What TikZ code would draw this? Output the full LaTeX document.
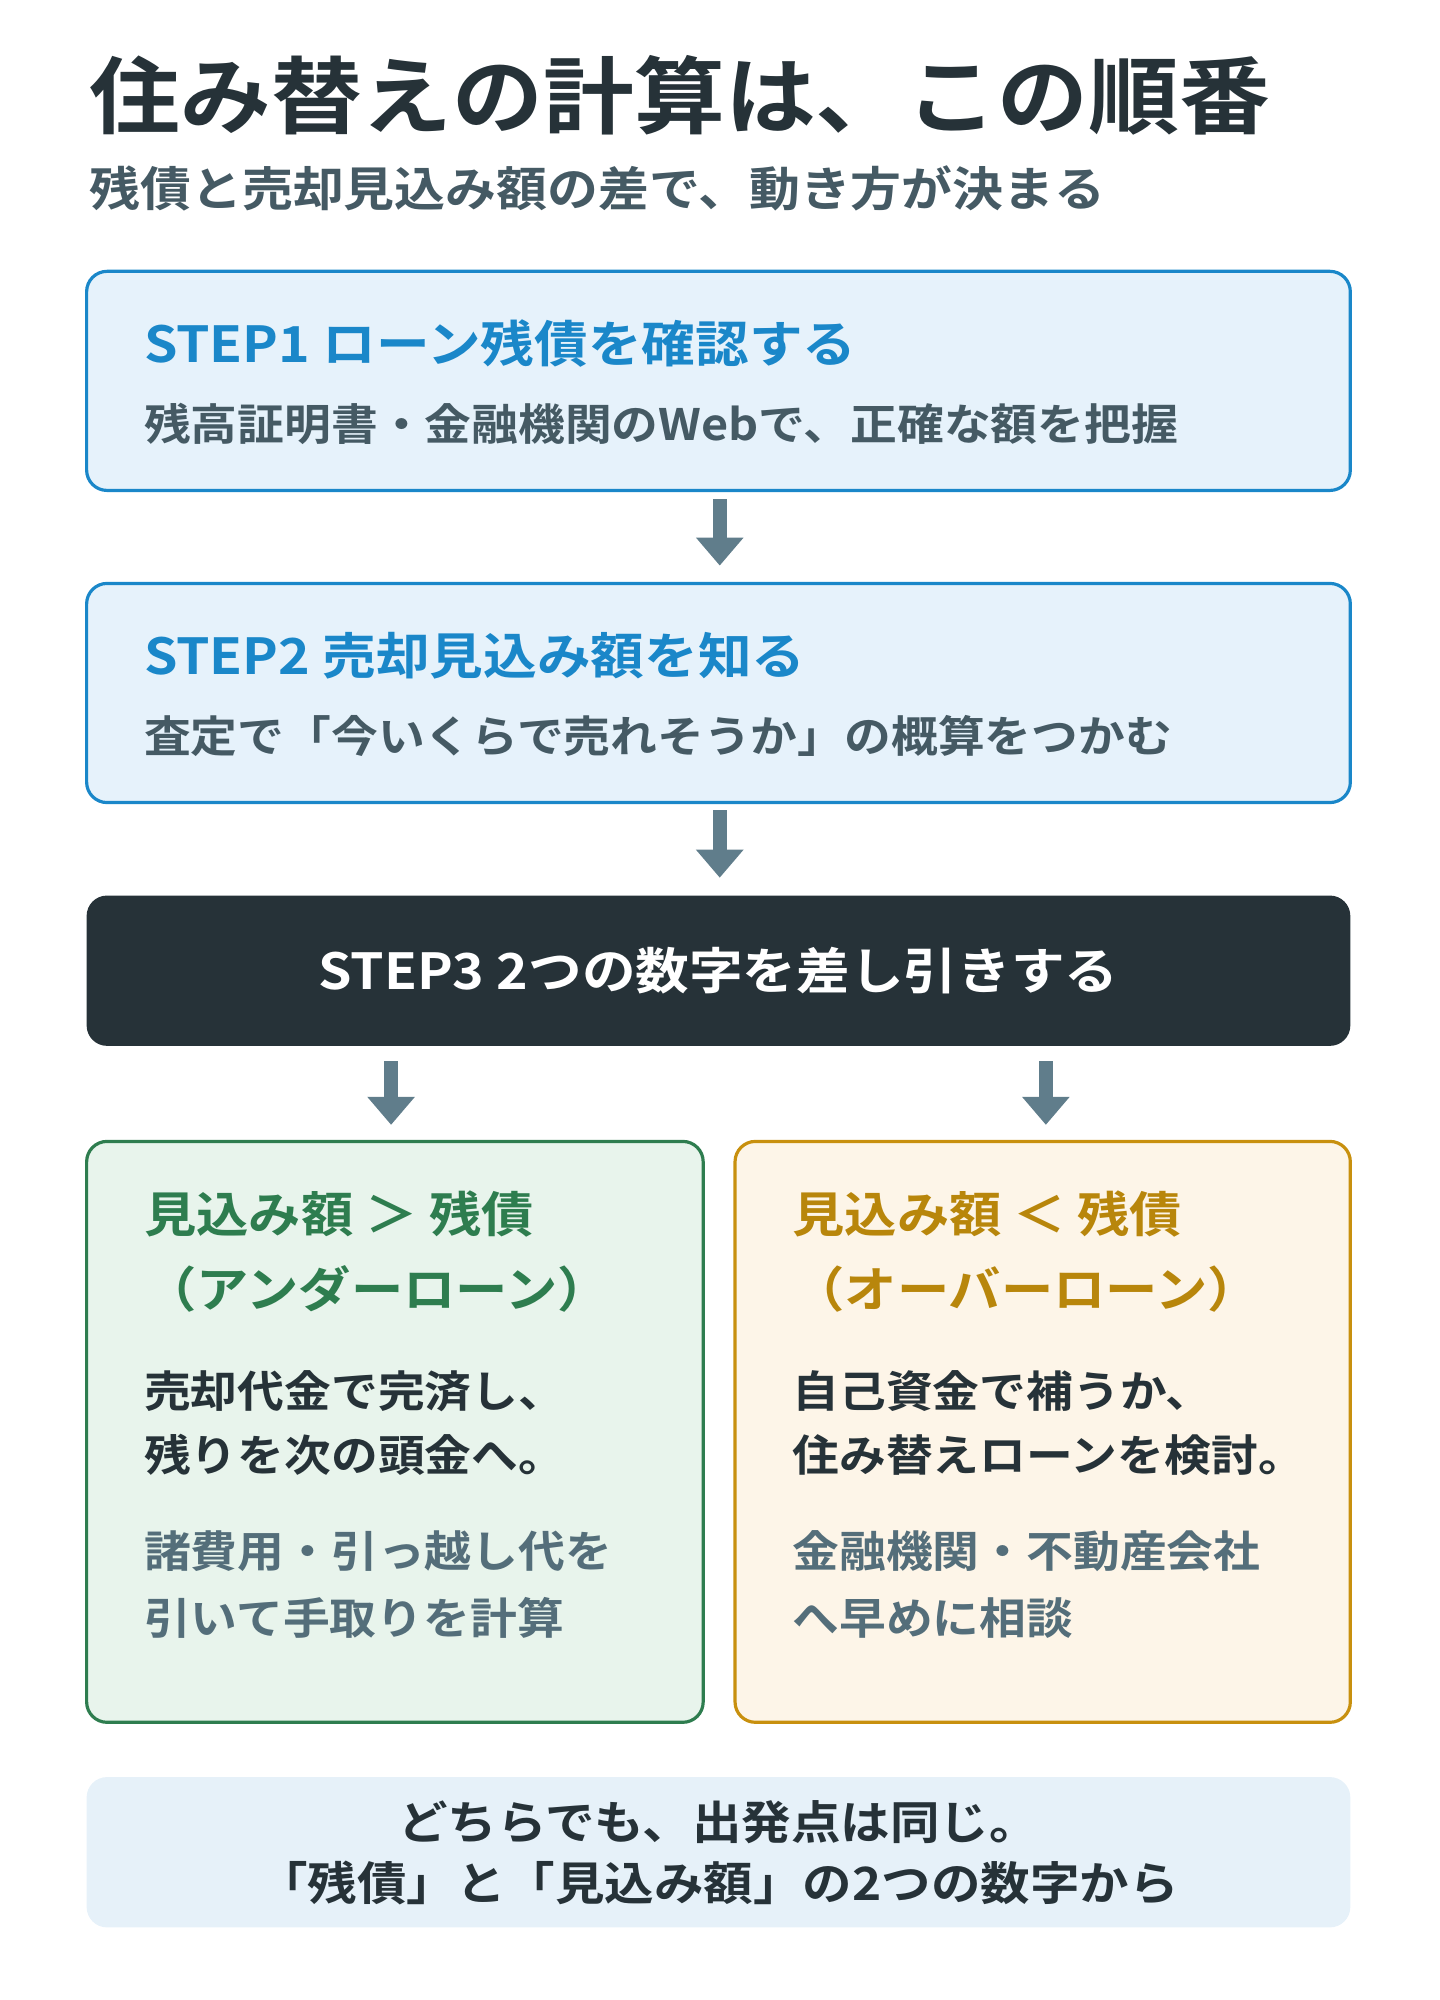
\documentclass[tikz,border=0pt]{standalone}
\usepackage{fontspec}
\setmainfont{Noto Sans CJK JP}[BoldFont={Noto Sans CJK JP Bold},BoldFeatures={FakeStretch=1.08}]
\usetikzlibrary{arrows.meta}
\definecolor{ink}{HTML}{263238}
\definecolor{sub}{HTML}{455A64}
\definecolor{gr}{HTML}{546E7A}
\definecolor{blu}{HTML}{1A87C9}
\definecolor{blufill}{HTML}{E6F2FB}
\definecolor{arr}{HTML}{607D8B}
\definecolor{grn}{HTML}{2E7D4F}
\definecolor{grnfill}{HTML}{E8F4EC}
\definecolor{org}{HTML}{C8900E}
\definecolor{orgtxt}{HTML}{B8860B}
\definecolor{orgfill}{HTML}{FDF5E8}
\definecolor{botfill}{HTML}{E6F1F9}
\begin{document}
\begin{tikzpicture}[x=1pt,y=-1pt,font=\bfseries,
 box/.style={rounded corners=16pt,line width=2.5pt},
 t/.style={anchor=west,inner sep=0pt},
 ar/.style={arr,line width=11pt,-{Triangle[length=22pt,width=36pt]}},
]
\useasboundingbox (0,0) rectangle (1130,1570);
\node[t,ink,font=\fontsize{66}{72}\selectfont\bfseries] (title) at (70,75) {住み替えの計算は、この順番};
\node[t,sub,font=\fontsize{37}{42}\selectfont\bfseries] (subt) at (70,148) {残債と売却見込み額の差で、動き方が決まる};
% boxes
\draw[box,draw=blu,fill=blufill] (68,213) rectangle (1060,385);
\coordinate (b1s) at (565,392);
\node[t,blu,font=\fontsize{39}{44}\selectfont\bfseries] (s1) at (113,270) {STEP1 ローン残債を確認する};
\node[t,sub,font=\fontsize{34}{38}\selectfont\bfseries] (s1b) at (113,333) {残高証明書・金融機関のWebで、正確な額を把握};
\coordinate (b2n) at (565,444);
\draw[box,draw=blu,fill=blufill] (68,458) rectangle (1060,630);
\node[t,blu,font=\fontsize{39}{44}\selectfont\bfseries] (s2) at (113,515) {STEP2 売却見込み額を知る};
\node[t,sub,font=\fontsize{34}{38}\selectfont\bfseries] (s2b) at (113,578) {査定で「今いくらで売れそうか」の概算をつかむ};
\coordinate (b2s) at (565,636);
\coordinate (b3n) at (565,689);
\fill[ink,rounded corners=16pt] (68,703) rectangle (1060,821);
\node[white,font=\fontsize{39}{44}\selectfont\bfseries] (s3) at (564,762) {STEP3 2つの数字を差し引きする};
\coordinate (b3l) at (307,833);
\coordinate (gn) at (307,883);
\coordinate (b3r) at (821,833);
\coordinate (on) at (821,883);
\draw[ar] (b1s) -- (b2n);
\draw[ar] (b2s) -- (b3n);
\draw[ar] (b3l) -- (gn);
\draw[ar] (b3r) -- (on);
% green
\draw[box,draw=grn,fill=grnfill] (68,896) rectangle (552,1352);
\node[t,grn,font=\fontsize{38}{44}\selectfont\bfseries] (g1) at (113,953) {見込み額 ＞ 残債};
\node[t,grn,font=\fontsize{38}{44}\selectfont\bfseries] (g2) at (113,1012) {（アンダーローン）};
\node[t,ink,font=\fontsize{34}{40}\selectfont\bfseries] (g3) at (113,1092) {売却代金で完済し、};
\node[t,ink,font=\fontsize{34}{40}\selectfont\bfseries] (g4) at (113,1142) {残りを次の頭金へ。};
\node[t,gr,font=\fontsize{34}{40}\selectfont\bfseries] (g5) at (113,1218) {諸費用・引っ越し代を};
\node[t,gr,font=\fontsize{34}{40}\selectfont\bfseries] (g6) at (113,1270) {引いて手取りを計算};
% orange
\draw[box,draw=org,fill=orgfill] (577,896) rectangle (1060,1352);
\node[t,orgtxt,font=\fontsize{38}{44}\selectfont\bfseries] (o1) at (622,953) {見込み額 ＜ 残債};
\node[t,orgtxt,font=\fontsize{38}{44}\selectfont\bfseries] (o2) at (622,1012) {（オーバーローン）};
\node[t,ink,font=\fontsize{34}{40}\selectfont\bfseries] (o3) at (622,1092) {自己資金で補うか、};
\node[t,ink,font=\fontsize{34}{40}\selectfont\bfseries] (o4) at (622,1142) {住み替えローンを検討。};
\node[t,gr,font=\fontsize{34}{40}\selectfont\bfseries] (o5) at (622,1218) {金融機関・不動産会社};
\node[t,gr,font=\fontsize{34}{40}\selectfont\bfseries] (o6) at (622,1270) {へ早めに相談};
% bottom
\fill[botfill,rounded corners=16pt] (68,1395) rectangle (1060,1513);
\node[ink,font=\fontsize{36}{42}\selectfont\bfseries] (f1) at (564,1430) {どちらでも、出発点は同じ。};
\node[ink,font=\fontsize{36}{42}\selectfont\bfseries] (f2) at (564,1478) {「残債」と「見込み額」の2つの数字から};
\end{tikzpicture}
\end{document}
